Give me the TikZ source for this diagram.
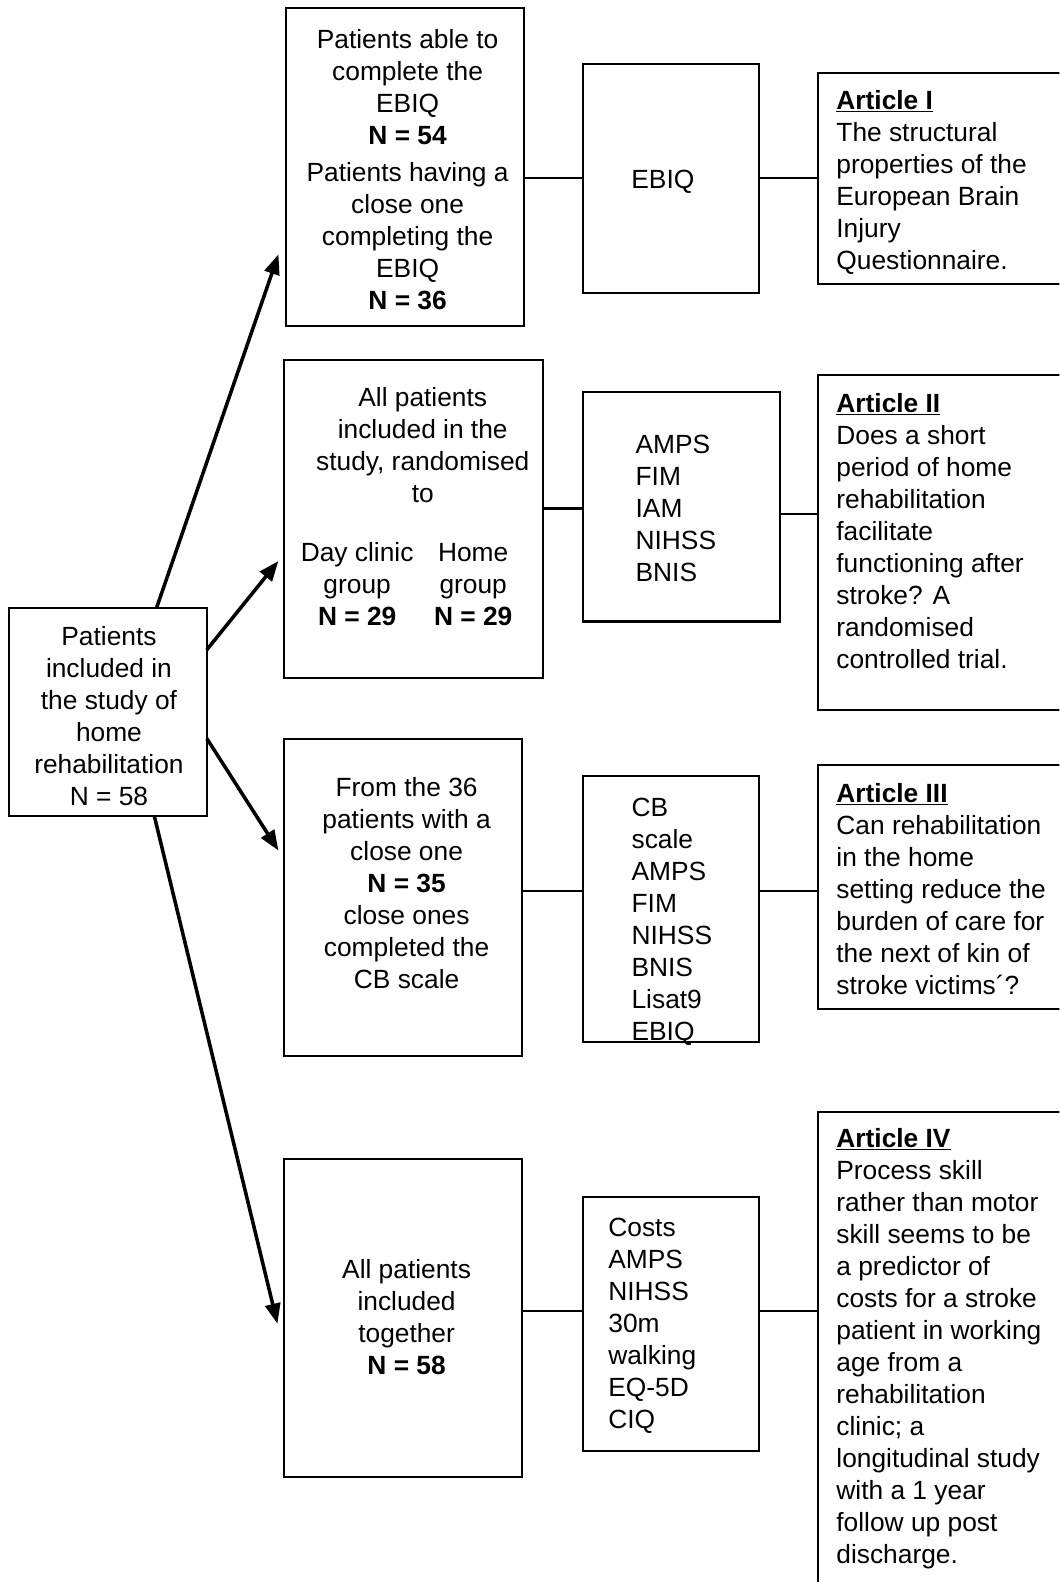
\documentclass[tikz,border=0pt]{standalone}
\usepackage{fontspec}
\setmainfont{Liberation Sans}
\usetikzlibrary{arrows.meta,calc}
\newcommand{\diafont}{\fontsize{26.1pt}{31.7pt}\selectfont}
\begin{document}
\begin{tikzpicture}[x=1pt,y=-1pt,
  box/.style={draw,line width=2pt,inner sep=0pt,outer sep=0pt},
  txt/.style={inner sep=0pt,outer sep=0pt,font=\diafont,align=center,anchor=north},
  ltxt/.style={inner sep=0pt,outer sep=0pt,font=\diafont,align=left,anchor=north west},
  link/.style={line width=2pt},
  arr/.style={line width=3.5pt,-{Triangle[length=20pt,width=15pt]}}]
\clip (0,0) rectangle (1050,1568);
\fill[white] (0,0) rectangle (1050,1568);
% boxes
\node[box,minimum width=196pt,minimum height=206pt] (L) at (107,706) {};
\node[box,minimum width=236pt,minimum height=315pt] (b1) at (401,165.5) {};
\node[box,minimum width=174pt,minimum height=227pt] (i1) at (665,176.5) {};
\node[box,minimum width=249pt,minimum height=209pt] (a1) at (935.5,176.5) {};
\node[box,minimum width=257pt,minimum height=315pt] (b2) at (409.5,514.5) {};
\node[box,minimum width=195pt,minimum height=227pt] (i2) at (675.5,502.5) {};
\node[box,minimum width=249pt,minimum height=332pt] (a2) at (935.5,538) {};
\node[box,minimum width=236pt,minimum height=315pt] (b3) at (399,889.5) {};
\node[box,minimum width=174pt,minimum height=264pt] (i3) at (665,901) {};
\node[box,minimum width=249pt,minimum height=242pt] (a3) at (935.5,879) {};
\node[box,minimum width=236pt,minimum height=315pt] (b4) at (399,1306.5) {};
\node[box,minimum width=174pt,minimum height=252pt] (i4) at (665,1312) {};
\node[box,minimum width=249pt,minimum height=498pt] (a4) at (935.5,1351) {};
% texts
\node[txt] (tL) at (108,617.3) {\strut Patients\\included in\\the study of\\home\\rehabilitation\\N = 58};
\node[txt] (t1) at (404,26.3) {\strut Patients able to\\complete the\\EBIQ\\\textbf{N = 54}\\[5pt]Patients having a\\close one\\completing the\\EBIQ\\\textbf{N = 36}};
\node[txt] (t2) at (419,380.3) {\strut All patients\\included in the\\study, randomised\\to};
\node[txt] (t2a) at (354,534.3) {\strut Day clinic\\group\\\textbf{N = 29}};
\node[txt] (t2b) at (469,534.3) {\strut Home\\group\\\textbf{N = 29}};
\node[txt] (t3) at (403,767.3) {\strut From the 36\\patients with a\\close one\\\textbf{N = 35}\\close ones\\completed the\\CB scale};
\node[txt] (t4) at (403,1245.3) {\strut All patients\\included\\together\\\textbf{N = 58}};
\node[txt] (e1) at (657,164.3) {\strut EBIQ};
\node[ltxt] (e2) at (630,427.3) {\strut AMPS\\FIM\\IAM\\NIHSS\\BNIS};
\node[ltxt] (e3) at (626,787.3) {\strut CB\\scale\\AMPS\\FIM\\NIHSS\\BNIS\\Lisat9\\EBIQ};
\node[ltxt] (e4) at (603,1203.3) {\strut Costs\\AMPS\\NIHSS\\30m\\walking\\EQ-5D\\CIQ};
\node[ltxt] (r1) at (829,86.3) {\strut\underline{\textbf{Article I}}\\The structural\\properties of the\\European Brain\\Injury\\Questionnaire.};
\node[ltxt] (r2) at (829,386.3) {\strut\underline{\textbf{Article II}}\\Does a short\\period of home\\rehabilitation\\facilitate\\functioning after\\stroke? A\\randomised\\controlled trial.};
\node[ltxt] (r3) at (829,773.3) {\strut\underline{\textbf{Article III}}\\Can rehabilitation\\in the home\\setting reduce the\\burden of care for\\the next of kin of\\stroke victims´?};
\node[ltxt] (r4) at (829,1115.3) {\strut\underline{\textbf{Article IV}}\\Process skill\\rather than motor\\skill seems to be\\a predictor of\\costs for a stroke\\patient in working\\age from a\\rehabilitation\\clinic; a\\longitudinal study\\with a 1 year\\follow up post\\discharge.};
% links
\draw[link] (b1.east |- 0,176) -- (i1.west |- 0,176);
\draw[link] (i1.east |- 0,176) -- (a1.west |- 0,176);
\draw[link] (b2.east |- 0,504) -- (i2.west |- 0,504);
\draw[link] (i2.east |- 0,509) -- (a2.west |- 0,509);
\draw[link] (b3.east |- 0,883) -- (i3.west |- 0,883);
\draw[link] (i3.east |- 0,883) -- (a3.west |- 0,883);
\draw[link] (b4.east |- 0,1299) -- (i4.west |- 0,1299);
\draw[link] (i4.east |- 0,1299) -- (a4.west |- 0,1299);
% arrows
\draw[arr] (L.north -| 155,0) -- ($(b1.west |- 0,252)+(-7,0)$);
\draw[arr] (L.east |- 0,644) -- ($(b2.west |- 0,556)+(-5,0)$);
\draw[arr] (L.east |- 0,732) -- ($(b3.west |- 0,843)+(-5,0)$);
\draw[arr] (L.south -| 153,0) -- ($(b4.west |- 0,1312)+(-6,0)$);
\end{tikzpicture}
\end{document}
